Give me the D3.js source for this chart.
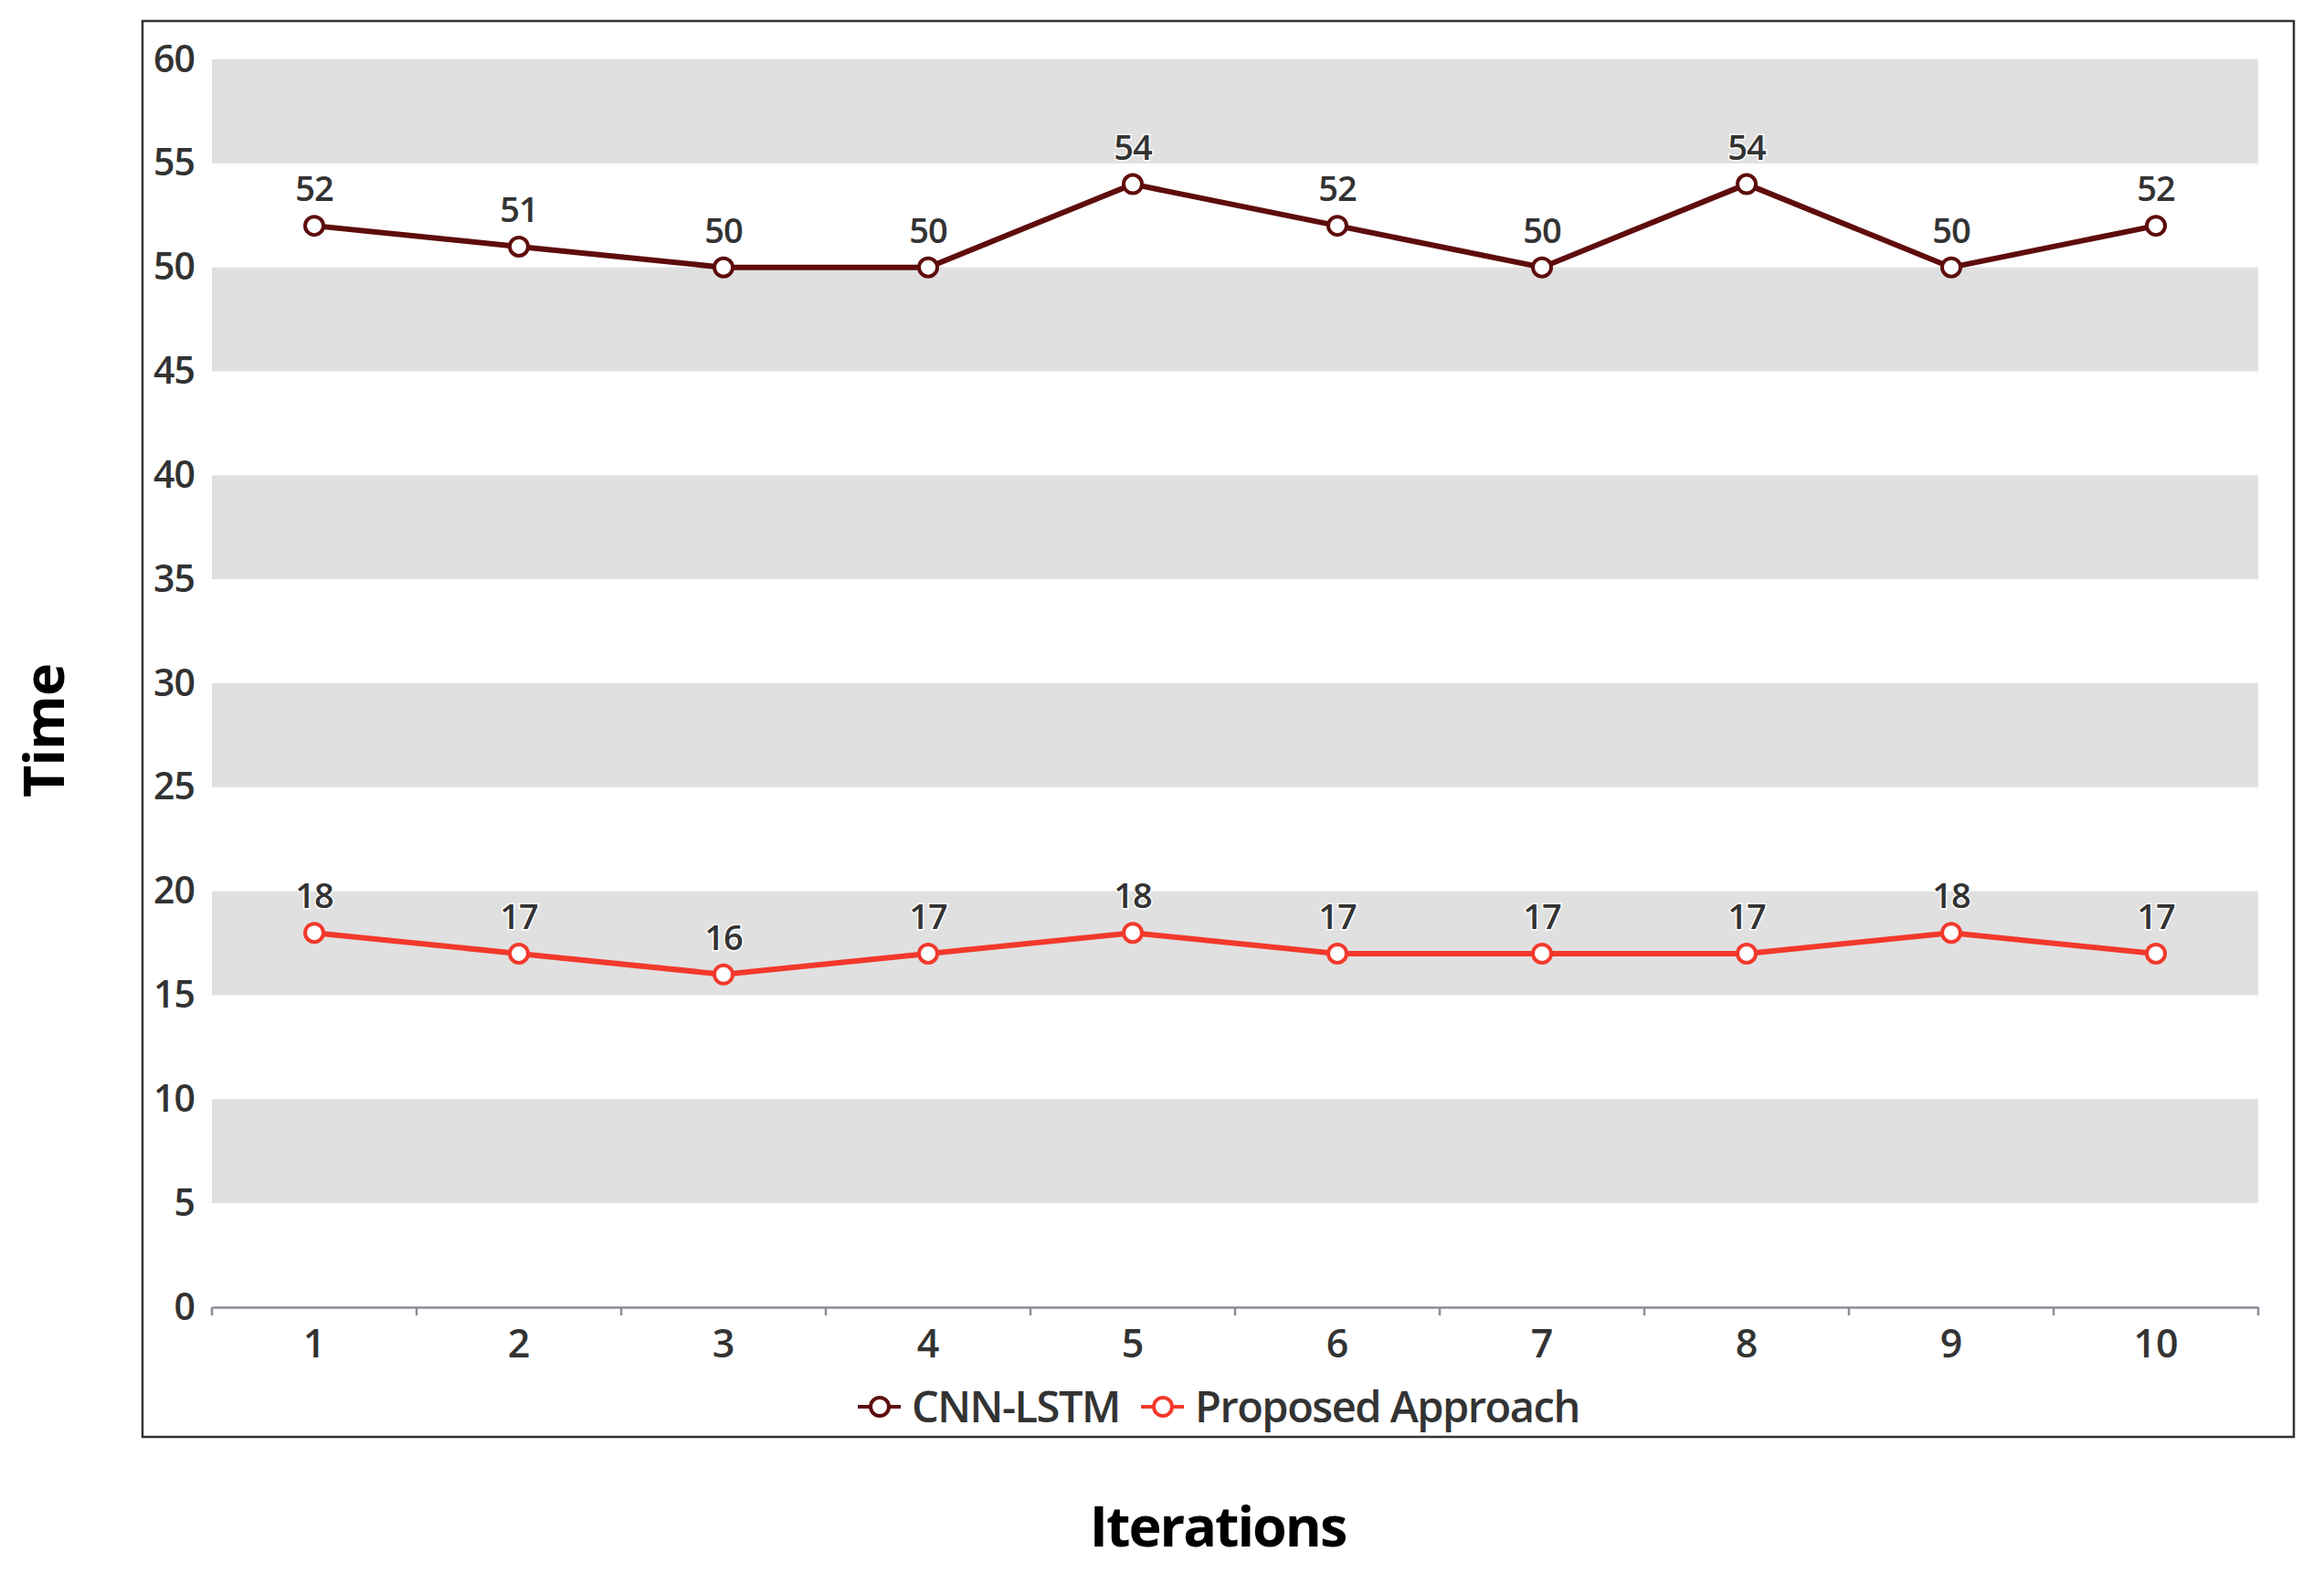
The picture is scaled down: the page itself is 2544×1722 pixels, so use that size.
<!DOCTYPE html>
<html>
<head>
<meta charset="utf-8">
<script src="https://cdn.jsdelivr.net/npm/d3@7"></script>
<style>
    body { margin: 0; background: #fff; }
    svg text { font-family: "Open Sans", "Noto Sans", sans-serif; }
</style>
</head>
<body>
<div id="chart"></div>
<script>
// --- chart data ---
const iterations = ['1', '2', '3', '4', '5', '6', '7', '8', '9', '10'];
const cnnLstm = [52, 51, 50, 50, 54, 52, 50, 54, 50, 52];
const proposed = [18, 17, 16, 17, 18, 17, 17, 17, 18, 17];
const yTicks = [0, 5, 10, 15, 20, 25, 30, 35, 40, 45, 50, 55, 60];
const seriesNames = ['CNN-LSTM', 'Proposed Approach'];

const W = 2544, H = 1722;
const plot = { left: 232, right: 2472, top: 65, bottom: 1431 };
const colors = ['#5e0c0c', '#f2392c'];

const svg = d3.select('#chart').append('svg')
    .attr('width', W).attr('height', H);

// outer frame
svg.append('rect')
    .attr('x', 156).attr('y', 23)
    .attr('width', 2511 - 156).attr('height', 1573 - 23)
    .attr('fill', 'none').attr('stroke', '#333').attr('stroke-width', 2.5);

const x = d3.scaleBand().domain(iterations).range([plot.left, plot.right]);
const y = d3.scaleLinear().domain([0, 60]).range([plot.bottom, plot.top]);

// alternating bands
const bandStarts = yTicks.filter(t => t < 60 && (t / 5) % 2 === 1);
svg.append('g').selectAll('rect').data(bandStarts).join('rect')
    .attr('x', plot.left)
    .attr('width', plot.right - plot.left)
    .attr('y', d => y(d + 5))
    .attr('height', d => y(d) - y(d + 5))
    .attr('fill', '#e0e0e0');

// y axis (labels only)
const yAxis = svg.append('g')
    .attr('transform', `translate(${plot.left},0)`)
    .call(d3.axisLeft(y).tickValues(yTicks).tickSize(0).tickPadding(19));
yAxis.select('.domain').remove();
yAxis.selectAll('text')
    .attr('font-size', 41).attr('font-weight', 600).attr('fill', '#333')
    .attr('letter-spacing', -1);

// x axis
const xAxis = svg.append('g')
    .attr('transform', `translate(0,${plot.bottom})`)
    .call(d3.axisBottom(x).tickSize(0).tickPadding(24));
xAxis.select('.domain').attr('stroke', '#8c8c99').attr('stroke-width', 2.5);
xAxis.selectAll('text')
    .attr('font-size', 43).attr('font-weight', 600).attr('fill', '#333');
// boundary ticks between categories
const bounds = iterations.map(d => x(d)).concat([plot.right]);
xAxis.append('g').selectAll('line').data(bounds).join('line')
    .attr('x1', d => d).attr('x2', d => d)
    .attr('y1', 0).attr('y2', 9)
    .attr('stroke', '#8c8c99').attr('stroke-width', 2.5);

// lines + markers + labels
const line = d3.line()
    .x((d, i) => x(iterations[i]) + x.bandwidth() / 2)
    .y(d => y(d));

[cnnLstm, proposed].forEach((vals, k) => {
    const g = svg.append('g');
    g.append('path').datum(vals)
        .attr('d', line)
        .attr('fill', 'none')
        .attr('stroke', colors[k])
        .attr('stroke-width', 6);
    g.selectAll('circle').data(vals).join('circle')
        .attr('cx', (d, i) => x(iterations[i]) + x.bandwidth() / 2)
        .attr('cy', d => y(d))
        .attr('r', 10)
        .attr('fill', '#fff')
        .attr('stroke', colors[k])
        .attr('stroke-width', 4);
    g.selectAll('text').data(vals).join('text')
        .attr('x', (d, i) => x(iterations[i]) + x.bandwidth() / 2)
        .attr('y', d => y(d) - 27)
        .attr('text-anchor', 'middle')
        .attr('font-size', 38).attr('font-weight', 600)
        .attr('letter-spacing', -1)
        .attr('fill', '#333')
        .attr('stroke', '#fff').attr('stroke-width', 3).attr('paint-order', 'stroke')
        .text(d => d);
});

// legend
const legend = svg.append('g').attr('transform', 'translate(0,1540)');
const legendX = [939, 1249];
seriesNames.forEach((name, k) => {
    const lg = legend.append('g').attr('transform', `translate(${legendX[k]},0)`);
    lg.append('line').attr('x1', 0).attr('x2', 47).attr('y1', 0).attr('y2', 0)
        .attr('stroke', colors[k]).attr('stroke-width', 4);
    lg.append('circle').attr('cx', 24).attr('cy', 0).attr('r', 10)
        .attr('fill', '#fff').attr('stroke', colors[k]).attr('stroke-width', 4);
    lg.append('text').attr('x', 59).attr('y', 0).attr('dy', '0.36em')
        .attr('font-size', 47).attr('font-weight', 600).attr('fill', '#333')
        .attr('letter-spacing', -1.5)
        .text(name);
});

// axis titles
svg.append('text')
    .attr('x', 1333).attr('y', 1693)
    .attr('text-anchor', 'middle')
    .attr('font-size', 61).attr('font-weight', 700).attr('fill', '#000')
    .attr('letter-spacing', -2)
    .text('Iterations');

svg.append('text')
    .attr('transform', 'translate(70,800) rotate(-90)')
    .attr('text-anchor', 'middle')
    .attr('font-size', 61).attr('font-weight', 700).attr('fill', '#000')
    .attr('letter-spacing', -1)
    .text('Time');
</script>
</body>
</html>
